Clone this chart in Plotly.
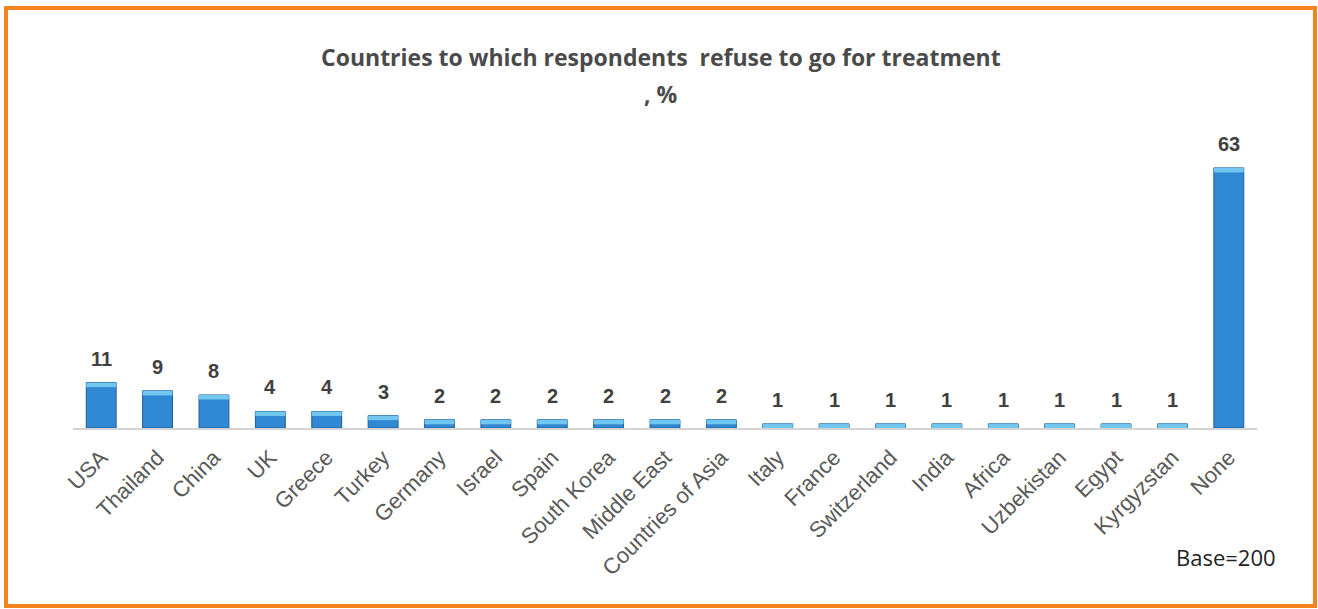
import plotly.graph_objects as go

countries = ["USA", "Thailand", "China", "UK", "Greece", "Turkey", "Germany", "Israel",
             "Spain", "South Korea", "Middle East", "Countries of Asia", "Italy", "France",
             "Switzerland", "India", "Africa", "Uzbekistan", "Egypt", "Kyrgyzstan", "None"]
shares = [11, 9, 8, 4, 4, 3, 2, 2, 2, 2, 2, 2, 1, 1, 1, 1, 1, 1, 1, 1, 63]

title_line1 = "Countries to which respondents  refuse to go for treatment"
title_line2 = ", %"
base_note = "Base=200"

# light "cap" on top of each bar, derived from the bar's own value
cap = [min(v, 1.1) for v in shares]
cap_base = [v - c for v, c in zip(shares, cap)]

# plot-area geometry in pixels, used to place the frame and free text in paper units
L, R, T, B = 73, 1257, 139, 428
W, H = R - L, B - T


def px_x(x):
    return (x - L) / W


def px_y(y):
    return (B - y) / H


fig = go.Figure()
fig.add_trace(go.Bar(
    x=countries, y=shares,
    marker=dict(color="#3188D3", line=dict(color="#1F5C97", width=1)),
    hoverinfo="x+y",
))
fig.add_trace(go.Bar(
    x=countries, y=cap, base=cap_base,
    marker=dict(color="#72C7F0", line=dict(width=0)),
    hoverinfo="skip",
))

annotations = [
    dict(x=c, y=v, xref="x", yref="y", text="<b>%d</b>" % v, showarrow=False,
         yanchor="bottom", yshift=11,
         font=dict(family="Arial", size=20, color="#404040"))
    for c, v in zip(countries, shares)
]
annotations += [
    dict(text="<b>" + title_line1 + "</b>", xref="paper", yref="paper",
         x=px_x(661), y=px_y(57), xanchor="center", yanchor="middle", showarrow=False,
         font=dict(family="Open Sans", size=23, color="#4A4A4A")),
    dict(text="<b>" + title_line2 + "</b>", xref="paper", yref="paper",
         x=px_x(661), y=px_y(94), xanchor="center", yanchor="middle", showarrow=False,
         font=dict(family="Open Sans", size=23, color="#4A4A4A")),
    dict(text=base_note, xref="paper", yref="paper",
         x=px_x(1278), y=px_y(557), xanchor="right", yanchor="middle", showarrow=False,
         font=dict(family="Open Sans", size=22, color="#222222")),
]

fig.update_layout(
    barmode="overlay",
    bargap=0.47,
    showlegend=False,
    width=1318, height=609,
    margin=dict(l=L, r=1318 - R, t=T, b=609 - B),
    paper_bgcolor="white", plot_bgcolor="white",
    xaxis=dict(
        tickangle=-45, tickfont=dict(family="Arial", size=22, color="#595959"),
        ticklabelstandoff=6,
        showline=True, linecolor="#D4D4D4", linewidth=2,
        showgrid=False, ticks="", fixedrange=True,
    ),
    yaxis=dict(range=[0, 70], visible=False, showgrid=False, fixedrange=True),
    shapes=[dict(
        type="rect", xref="paper", yref="paper",
        x0=px_x(6), x1=px_x(1315), y0=px_y(606), y1=px_y(8),
        line=dict(color="#F5841F", width=4),
    )],
    annotations=annotations,
)

fig.write_html("out.html")
